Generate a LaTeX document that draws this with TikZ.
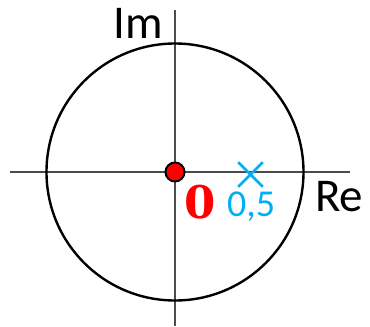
\documentclass[tikz,border=0pt]{standalone}
\usepackage{fontspec}
\setmainfont{Carlito}
\newfontfamily\digitfont{DejaVu Serif}
\usetikzlibrary{shapes.misc}
\definecolor{zerocyan}{RGB}{0,176,240}

\begin{document}
\begin{tikzpicture}[x=1pt, y=-1pt,
  axis/.style   ={draw=black!70, line width=1.5pt},
  unitcirc/.style={draw, line width=2.4pt},
  pole/.style   ={circle, draw, fill=red, line width=2pt, minimum size=19pt, inner sep=0pt},
  zeromark/.style={cross out, draw=zerocyan, line width=2.6pt, minimum size=22pt, inner sep=0pt},
  axlabel/.style={font=\fontsize{47}{49}\selectfont, inner sep=0pt},
  ptlabel/.style={inner sep=0pt}
]
\useasboundingbox (0,0) rectangle (370,327);

%%% ---- axes ------------------------------------------------------------
\coordinate (reL) at ( 10,172);
\coordinate (reR) at (350,172);
\coordinate (imB) at (175,326);
\coordinate (imT) at (175, 10);
\draw[axis] (reL) -- (reR);
\draw[axis] (imB) -- (imT);

% axis names
\node[axlabel, anchor=base west] (im) at (113,38)  {Im};
\node[axlabel, anchor=base west] (re) at (315,211) {Re};

%%% ---- unit circle -----------------------------------------------------
\coordinate (ctr) at (175,172);
\draw[unitcirc] (ctr) circle (128.5pt);

%%% ---- pole and zero ---------------------------------------------------
\node[pole]     (p0) at (ctr) {};
\node[zeromark] (z0) at (250.5,174.5) {};

\node[ptlabel, anchor=base, text=red, font=\digitfont\bfseries\fontsize{45}{47}\selectfont]
      (lblp) at (200.5,218) {0};
\node[ptlabel, anchor=base, text=zerocyan, font=\fontsize{38}{40}\selectfont]
      (lblz) at (251,216) {0,5};

\end{tikzpicture}
\end{document}
